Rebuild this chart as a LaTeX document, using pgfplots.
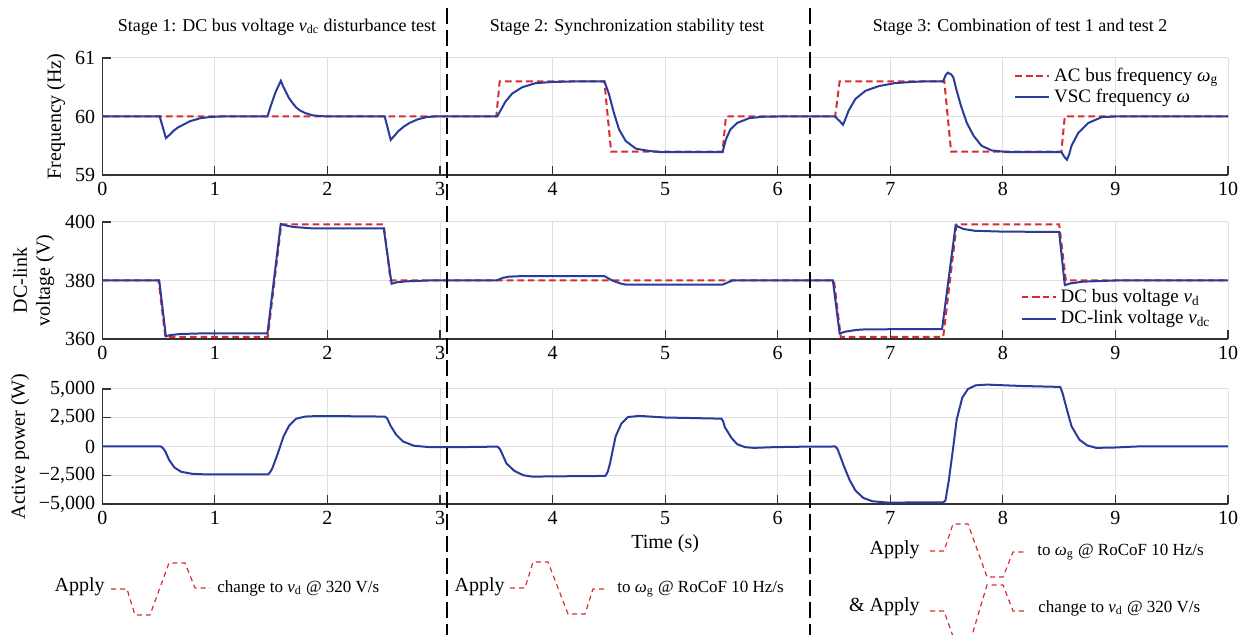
\documentclass[border=0pt]{standalone}
\usepackage{fontspec}
\setmainfont{Liberation Serif}
\usepackage{pgfplots}
\pgfplotsset{compat=1.18}
\definecolor{myred}{RGB}{215,45,50}
\definecolor{myblue}{RGB}{40,60,155}
\pgfplotsset{mybase/.style={
  scale only axis, width=562.85pt, height=58.5pt,
  xmin=0, xmax=10, xtick={0,1,...,10},
  axis x line*=bottom, axis y line*=left,
  axis line style={-, black!80, line width=0.6pt},
  every tick/.style={black!80, line width=0.6pt},
  tick align=inside, major tick length=4.5pt,
  grid=major, major grid style={black!12, line width=0.5pt},
  tick label style={font=\fontsize{10}{12}\selectfont},
  /pgf/number format/assume math mode=true,
  label style={font=\fontsize{10}{11.5}\selectfont},
  legend style={draw=none, fill=none, font=\fontsize{9.5}{11}\selectfont, row sep=-1.5pt, inner sep=1pt},
  legend cell align=left,
}}
\begin{document}
\begin{tikzpicture}
\useasboundingbox (0,0) rectangle (622pt,317.5pt);
% ---------- Frequency ----------
\begin{axis}[mybase, at={(51.15pt,230pt)}, anchor=south west,
  ymin=59, ymax=61, ytick={59,60,61},
  ylabel={Frequency (Hz)},
  ylabel style={at={(axis description cs:-0.0411,0.5)}, anchor=center},
  legend style={at={(0.997,0.97)}, anchor=north east}]
\addplot[myred, line width=1pt, dash pattern=on 3.3pt off 2pt] coordinates {
(0,60)(3.5,60)(3.53,60.6)(4.46,60.6)(4.52,59.4)(5.51,59.4)(5.54,60)(6.51,60)(6.55,60.6)(7.48,60.6)(7.54,59.4)(8.52,59.4)(8.55,60)(10,60)};
\addlegendentry{AC bus frequency \textit{ω}\textsubscript{g}}
\addplot[myblue, line width=1pt] coordinates {
(0,60)(0.51,60)(0.565,59.63)(0.6,59.69)(0.63,59.75)(0.67,59.81)(0.72,59.86)(0.78,59.92)(0.87,59.97)(0.95,59.99)(1.05,60)
(1.467,60)(1.475,60.05)(1.5,60.2)(1.54,60.42)(1.586,60.61)(1.61,60.5)(1.636,60.4)(1.66,60.31)(1.69,60.23)(1.72,60.16)(1.75,60.11)(1.8,60.06)(1.87,60.02)(1.95,60.005)(2.05,60)
(2.509,60)(2.562,59.6)(2.6,59.68)(2.63,59.75)(2.68,59.83)(2.73,59.89)(2.8,59.95)(2.88,59.99)(2.95,60)
(3.508,60)(3.54,60.11)(3.58,60.25)(3.64,60.39)(3.73,60.5)(3.85,60.57)(4.0,60.59)(4.2,60.6)
(4.46,60.6)(4.5,60.39)(4.545,60.06)(4.59,59.78)(4.65,59.58)(4.74,59.45)(4.86,59.41)(4.97,59.39)(5.51,59.39)
(5.54,59.61)(5.58,59.78)(5.64,59.89)(5.745,59.97)(5.86,59.995)(6.0,60)(6.51,60)
(6.52,59.98)(6.58,59.86)(6.6,59.95)(6.63,60.1)(6.69,60.3)(6.78,60.44)(6.9,60.52)(7.04,60.57)(7.19,60.59)(7.3,60.6)(7.47,60.6)
(7.49,60.7)(7.51,60.75)(7.54,60.72)(7.56,60.67)(7.59,60.44)(7.63,60.17)(7.68,59.89)(7.74,59.67)(7.81,59.5)(7.9,59.42)(8.05,59.39)(8.52,59.39)
(8.55,59.3)(8.57,59.26)(8.59,59.36)(8.61,59.5)(8.67,59.72)(8.76,59.89)(8.88,59.99)(9.0,60)(10,60)};
\addlegendentry{VSC frequency \textit{ω}}
\end{axis}
% ---------- DC-link voltage ----------
\begin{axis}[mybase, at={(51.15pt,148pt)}, anchor=south west,
  ymin=360, ymax=400, ytick={360,380,400},
  ylabel={DC-link\\voltage (V)},
  ylabel style={align=center, at={(axis description cs:-0.0611,0.5)}, anchor=center},
  legend style={at={(0.99,0.05)}, anchor=south east}]
\addplot[myred, line width=1pt, dash pattern=on 3.3pt off 2pt] coordinates {
(0,380)(0.5,380)(0.56,360.7)(1.47,360.7)(1.59,399.2)(2.5,399.2)(2.56,380)(6.5,380)(6.56,360.7)(7.47,360.7)(7.59,399.2)(8.5,399.2)(8.56,380)(10,380)};
\addlegendentry{DC bus voltage \textit{v}\textsubscript{d}}
\addplot[myblue, line width=1pt] coordinates {
(0,380)(0.506,380)(0.565,360.9)(0.6,361.3)(0.69,361.7)(0.87,361.9)(1.467,361.9)(1.585,399.3)(1.62,398.9)(1.695,398.3)(1.87,397.8)(2.50,397.8)(2.57,378.9)(2.62,379.4)(2.70,379.7)(2.9,380)
(3.5,380)(3.56,380.9)(3.61,381.3)(3.73,381.5)(4.46,381.5)(4.53,380)(4.6,379)(4.65,378.6)(5.51,378.6)(5.56,379.4)(5.6,380)(6.49,380)
(6.55,361.9)(6.6,362.5)(6.7,363.1)(6.78,363.3)(7.46,363.4)(7.58,398.8)(7.65,397.6)(7.75,397)(8.0,396.7)(8.5,396.6)(8.55,378.4)(8.6,379)(8.71,379.6)(9.0,380)(10,380)};
\addlegendentry{DC-link voltage \textit{v}\textsubscript{dc}}
\end{axis}
% ---------- Active power ----------
\begin{axis}[mybase, at={(51.15pt,65.5pt)}, anchor=south west, height=57.5pt,
  ymin=-5000, ymax=5000, ytick={-5000,-2500,0,2500,5000}, clip=false,
  yticklabels={{−5,000},{−2,500},0,{2,500},{5,000}},
  ylabel={Active power (W)},
  ylabel style={at={(axis description cs:-0.0731,0.5)}, anchor=center},
  xlabel={Time (s)}, xlabel style={yshift=2pt}]
\addplot[myblue, line width=1pt] coordinates {
(0,0)(0.52,0)(0.54,-150)(0.56,-440)(0.594,-1180)(0.64,-1820)(0.70,-2200)(0.80,-2380)(0.93,-2430)(1.2,-2430)(1.473,-2420)
(1.49,-2250)(1.51,-1910)(1.56,-590)(1.61,880)(1.66,1820)(1.72,2410)(1.80,2600)(1.91,2650)(2.2,2630)(2.51,2600)
(2.53,2450)(2.56,1820)(2.61,1030)(2.67,440)(2.77,60)(2.9,-50)(3.15,-60)(3.51,-10)
(3.53,-200)(3.55,-590)(3.59,-1470)(3.66,-2120)(3.74,-2500)(3.82,-2620)(4.10,-2590)(4.47,-2560)
(4.49,-2200)(4.51,-1470)(4.56,880)(4.61,1970)(4.67,2560)(4.77,2660)(5.0,2520)(5.5,2420)
(5.515,2200)(5.53,1680)(5.59,735)(5.64,200)(5.71,-60)(5.79,-120)(5.96,-60)(6.27,-10)(6.51,0)
(6.53,-200)(6.54,-440)(6.59,-1760)(6.64,-2940)(6.69,-3820)(6.76,-4470)(6.84,-4760)(6.98,-4880)(7.47,-4850)
(7.49,-4700)(7.52,-2940)(7.56,0)(7.59,2350)(7.64,4260)(7.69,5000)(7.76,5320)(7.86,5380)(8.17,5260)(8.51,5180)
(8.53,4650)(8.56,3530)(8.61,1760)(8.68,590)(8.75,90)(8.83,-120)(8.99,-90)(9.19,0)(10,0)};
\end{axis}
% ---------- annotations ----------
\begin{scope}[shift={(0,317.5pt)}, x=0.5pt, y=-0.5pt]
\draw[black, line width=1pt, dash pattern=on 8pt off 3pt] (447,8) -- (447,640);
\draw[black, line width=1pt, dash pattern=on 8pt off 3pt] (810,8) -- (810,640);
\node[font=\fontsize{9}{11}\selectfont] at (277,27) {Stage 1: DC bus voltage \textit{v}\textsubscript{dc} disturbance test};
\node[font=\fontsize{9}{11}\selectfont] at (627,27) {Stage 2: Synchronization stability test};
\node[font=\fontsize{9}{11}\selectfont] at (1020,27) {Stage 3: Combination of test 1 and test 2};
% stage 1
\node[font=\fontsize{10}{12}\selectfont, anchor=east, inner sep=0pt] at (105,587) {Apply};
\draw[myred, line width=0.6pt, dash pattern=on 2.5pt off 2pt] (111,589) -- (127,589) -- (135,615) -- (150,615) -- (169,563) -- (185,563) -- (195,588) -- (210,588);
\node[anchor=west, inner sep=0pt, font=\fontsize{8.5}{10}\selectfont] at (217,588) {change to \textit{v}\textsubscript{d} @ 320 V/s};
% stage 2
\node[font=\fontsize{10}{12}\selectfont, anchor=east, inner sep=0pt] at (505,587) {Apply};
\draw[myred, line width=0.6pt, dash pattern=on 2.5pt off 2pt] (510,588) -- (525,588) -- (533,562) -- (548,562) -- (568,614) -- (585,614) -- (593,589) -- (608,589);
\node[anchor=west, inner sep=0pt, font=\fontsize{8.5}{10}\selectfont] at (617,589) {to \textit{ω}\textsubscript{g} @ RoCoF 10 Hz/s};
% stage 3
\node[font=\fontsize{10}{12}\selectfont, anchor=east, inner sep=0pt] at (920,550) {Apply};
\draw[myred, line width=0.6pt, dash pattern=on 2.5pt off 2pt] (930,551) -- (944,551) -- (953,524) -- (968,524) -- (987,577) -- (1003,577) -- (1013,552) -- (1027,552);
\node[anchor=west, inner sep=0pt, font=\fontsize{8.5}{10}\selectfont] at (1037,552) {to \textit{ω}\textsubscript{g} @ RoCoF 10 Hz/s};
\node[font=\fontsize{10}{12}\selectfont, anchor=east, inner sep=0pt] at (920,607) {\& Apply};
\draw[myred, line width=0.6pt, dash pattern=on 2.5pt off 2pt] (930,611) -- (944,611) -- (955,642) -- (970,642) -- (987,585) -- (1003,585) -- (1013,611) -- (1027,611);
\node[anchor=west, inner sep=0pt, font=\fontsize{8.5}{10}\selectfont] at (1038,608) {change to \textit{v}\textsubscript{d} @ 320 V/s};
\end{scope}
\end{tikzpicture}
\end{document}
